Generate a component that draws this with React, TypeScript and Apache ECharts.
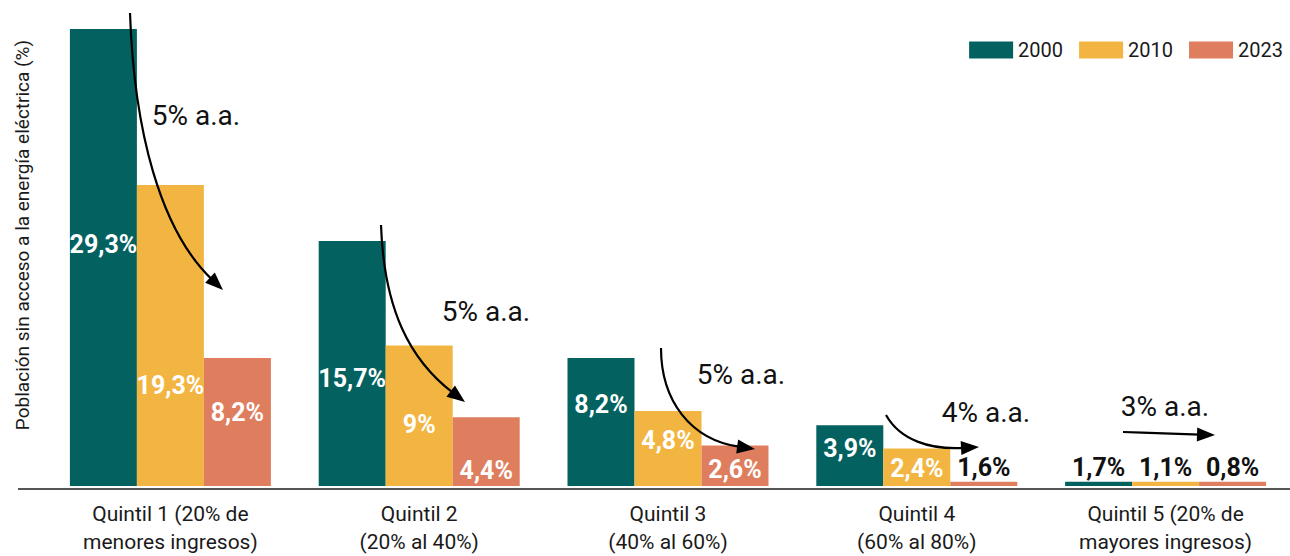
import React, { useEffect, useRef } from "react";
import * as echarts from "echarts";

const categories = [
  "Quintil 1 (20% de\nmenores ingresos)",
  "Quintil 2\n(20% al 40%)",
  "Quintil 3\n(40% al 60%)",
  "Quintil 4\n(60% al 80%)",
  "Quintil 5 (20% de\nmayores ingresos)",
];
const years = ["2000", "2010", "2023"];

// values printed on the bars
const shown2000 = [29.3, 15.7, 8.2, 3.9, 1.7];
const shown2010 = [19.3, 9, 4.8, 2.4, 1.1];
const shown2023 = [8.2, 4.4, 2.6, 1.6, 0.8];

// bar heights as drawn in the picture
const bar2000 = [29.3, 15.7, 8.2, 3.9, 0.27];
const bar2010 = [19.3, 9, 4.8, 2.4, 0.27];
const bar2023 = [8.2, 4.4, 2.6, 0.27, 0.27];

const growthLabels = ["5% a.a.", "5% a.a.", "5% a.a.", "4% a.a.", "3% a.a."];
const yAxisTitle = "Población sin acceso a la energía eléctrica (%)";

const COLORS = ["#036260", "#F3B541", "#DF7E5E"];
const FONT = "Roboto, 'Noto Sans', sans-serif";

// label styling (offset in px relative to bar centre; null => label above bar)
const labelShift2000: (number | null)[] = [-13, 15, -18, -7, null];
const labelShift2010: (number | null)[] = [50, 9, -8, 1, null];
const labelShift2023: (number | null)[] = [-10, 19, 4, null, null];

const fmt = (v: number) => String(v).replace(".", ",") + "%";

function buildData(heights: number[], shown: number[], shifts: (number | null)[]) {
  return heights.map((h, i) => {
    const s = shifts[i];
    const label =
      s === null
        ? {
            show: true,
            position: "top",
            distance: 2,
            color: "#111",
            formatter: fmt(shown[i]),
          }
        : {
            show: true,
            position: "inside",
            offset: [0, s],
            color: "#fff",
            formatter: fmt(shown[i]),
          };
    return { value: h, label };
  });
}

function arrow(
  p0: number[],
  c1: number[],
  c2: number[],
  tip: number[],
  headLen = 18,
  headW = 14
) {
  const dx = tip[0] - c2[0];
  const dy = tip[1] - c2[1];
  const L = Math.hypot(dx, dy);
  const ux = dx / L;
  const uy = dy / L;
  const base = [tip[0] - ux * headLen, tip[1] - uy * headLen];
  const end = [tip[0] - ux * (headLen - 3), tip[1] - uy * (headLen - 3)];
  const px = -uy;
  const py = ux;
  return [
    {
      type: "bezierCurve",
      shape: {
        x1: p0[0],
        y1: p0[1],
        cpx1: c1[0],
        cpy1: c1[1],
        cpx2: c2[0],
        cpy2: c2[1],
        x2: end[0],
        y2: end[1],
      },
      style: { stroke: "#000", lineWidth: 2.2, fill: null },
      z: 100,
    },
    {
      type: "polygon",
      shape: {
        points: [
          [tip[0], tip[1]],
          [base[0] + (px * headW) / 2, base[1] + (py * headW) / 2],
          [base[0] - (px * headW) / 2, base[1] - (py * headW) / 2],
        ],
      },
      style: { fill: "#000" },
      z: 100,
    },
  ];
}

function annot(text: string, x: number, y: number) {
  return {
    type: "text",
    x,
    y,
    z: 100,
    style: {
      text,
      fontSize: 28,
      fontFamily: FONT,
      fill: "#111",
      align: "center",
      verticalAlign: "middle",
    },
  };
}

export default function App() {
  const ref = useRef<HTMLDivElement>(null);
  useEffect(() => {
    if (!ref.current) return;
    const chart = echarts.init(ref.current, undefined, { renderer: "svg" });
    const seriesData = [
      buildData(bar2000, shown2000, labelShift2000),
      buildData(bar2010, shown2010, labelShift2010),
      buildData(bar2023, shown2023, labelShift2023),
    ];
    const annotPos = [
      [196, 115],
      [486, 311],
      [741, 374],
      [986, 412],
      [1165, 406],
    ];
    const graphic: any[] = [
      {
        type: "line",
        shape: { x1: 18, y1: 489, x2: 1290, y2: 489 },
        style: { stroke: "#555", lineWidth: 2 },
        z: 50,
      },
      {
        type: "text",
        x: 22,
        y: 235,
        rotation: Math.PI / 2,
        style: {
          text: yAxisTitle,
          fontSize: 19,
          fontFamily: FONT,
          fill: "#1a1a1a",
          align: "center",
          verticalAlign: "middle",
        },
      },
      ...growthLabels.map((t, i) => annot(t, annotPos[i][0], annotPos[i][1])),
      ...arrow([130, 13], [134, 130], [160, 230], [223, 290]),
      ...arrow([381, 225], [384, 310], [410, 360], [465, 402]),
      ...arrow([661, 348], [661, 400], [690, 440], [755, 449]),
      ...arrow([886, 415], [900, 440], [930, 450], [979, 447]),
      ...arrow([1123, 432], [1150, 433], [1180, 434], [1215, 435]),
    ];
    chart.setOption({
      animation: false,
      backgroundColor: "#fff",
      textStyle: { fontFamily: FONT },
      color: COLORS,
      legend: {
        data: years,
        right: 2,
        top: 35,
        icon: "rect",
        itemWidth: 44,
        itemHeight: 17,
        itemGap: 16,
        textStyle: { fontSize: 20, color: "#1a1a1a", fontFamily: FONT },
      },
      grid: { left: 46, right: 0, top: 18, bottom: 68, containLabel: false },
      xAxis: {
        type: "category",
        data: categories,
        axisLine: { show: false },
        axisTick: { show: false },
        axisLabel: {
          fontSize: 21,
          lineHeight: 28,
          color: "#1a1a1a",
          margin: 14,
          fontFamily: FONT,
          interval: 0,
        },
      },
      yAxis: {
        type: "value",
        min: 0,
        max: 30,
        show: false,
        splitLine: { show: false },
      },
      series: years.map((y, i) => ({
        name: y,
        type: "bar",
        data: seriesData[i],
        barWidth: 67,
        barGap: "0%",
        itemStyle: { color: COLORS[i] },
        label: {
          fontSize: 25,
          fontWeight: "bold",
          fontFamily: FONT,
        },
      })),
      graphic,
    });
    return () => chart.dispose();
  }, []);
  return (
    <div
      ref={ref}
      style={{ position: "absolute", left: 0, top: 0, width: 1290, height: 556 }}
    />
  );
}
